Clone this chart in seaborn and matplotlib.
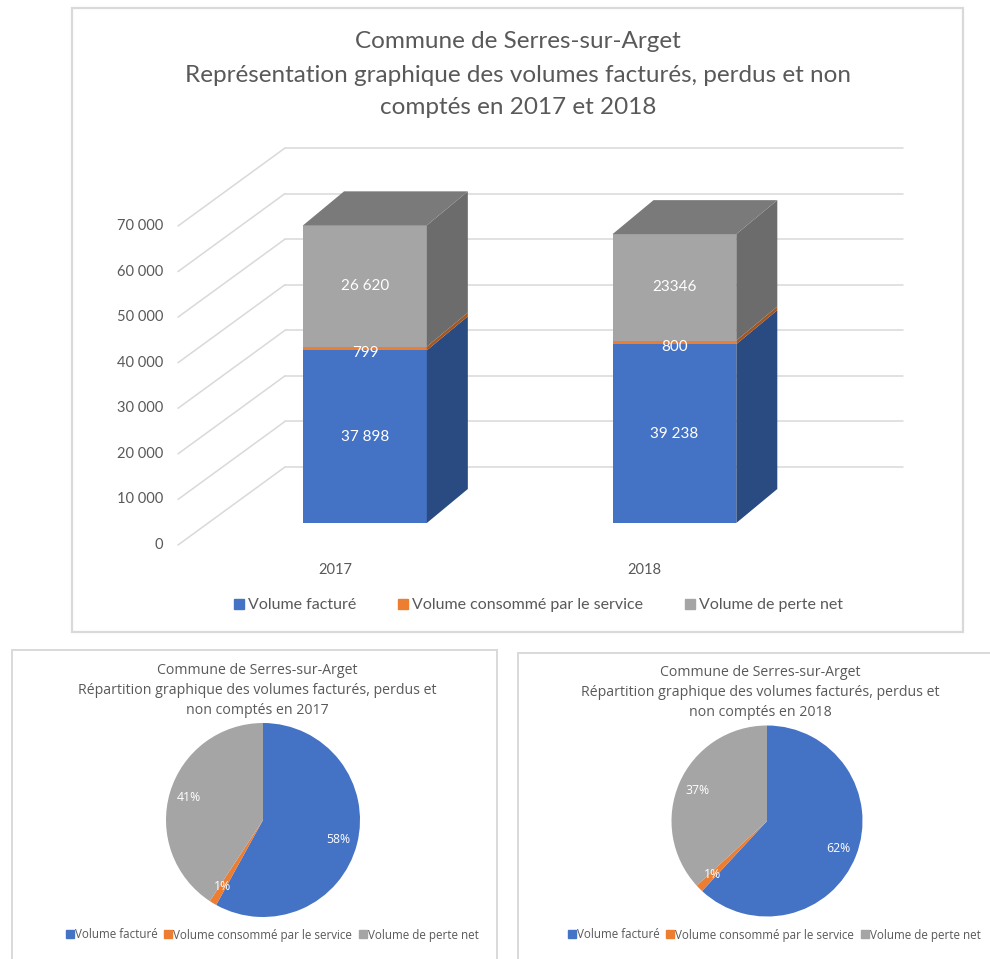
import numpy as np
import pandas as pd
import matplotlib
matplotlib.use("Agg")
import matplotlib.pyplot as plt
import seaborn as sns
from matplotlib.patches import Polygon, Rectangle
from matplotlib.lines import Line2D

# ---------------- data ----------------
years = ["2017", "2018"]
series_names = ["Volume facturé", "Volume consommé par le service", "Volume de perte net"]
vol_facture = [37898, 39238]
vol_service = [799, 800]
vol_perte = [26620, 23346]
labels_facture = ["37 898", "39 238"]
labels_service = ["799", "800"]
labels_perte = ["26 620", "23346"]
y_ticks = [0, 10000, 20000, 30000, 40000, 50000, 60000, 70000]
y_tick_labels = ["0", "10 000", "20 000", "30 000", "40 000", "50 000", "60 000", "70 000"]

title_main = ["Commune de Serres-sur-Arget",
              "Représentation graphique des volumes facturés, perdus et non",
              "comptés en 2017 et 2018"]
title_pie = ["Commune de Serres-sur-Arget",
             "Répartition graphique des volumes facturés, perdus et",
             "non comptés en {}"]

# ---------------- style ----------------
sns.set_style("white")
plt.rcParams["font.family"] = ["Lato", "DejaVu Sans"]
PIEFONT = ["Open Sans", "DejaVu Sans"]
TXT = "#595959"
GRID = "#D9D9D9"
front_cols = ["#4472C4", "#ED7D31", "#A5A5A5"]
side_cols = ["#2A4A82", "#A5561F", "#6C6C6C"]
top_col = "#7A7A7A"

W, H = 990, 959
fig = plt.figure(figsize=(W / 100, H / 100), dpi=100)
fig.patch.set_facecolor("white")


def fx(px):
    return px / W


def fy(py):
    return 1 - py / H


# frames
fig.patches.append(Rectangle((fx(72), fy(632)), fx(963) - fx(72), fy(8) - fy(632),
                             transform=fig.transFigure, fill=False, edgecolor=GRID, lw=1.6))
fig.patches.append(Rectangle((fx(12), fy(965)), fx(497) - fx(12), fy(650) - fy(965),
                             transform=fig.transFigure, fill=False, edgecolor=GRID, lw=1.4))
fig.patches.append(Rectangle((fx(518), fy(965)), fx(995) - fx(518), fy(653) - fy(965),
                             transform=fig.transFigure, fill=False, edgecolor=GRID, lw=1.4))

# ---------------- bar chart (pseudo 3D) ----------------
ax_w_px, ax_h_px = 618, 319
ax = fig.add_axes([fx(200), fy(523), ax_w_px / W, ax_h_px / H])
xlim0, xlim1 = -0.533, 1.464
ymax = 70000
px2dx = (xlim1 - xlim0) / ax_w_px
px2dy = ymax / ax_h_px

df = pd.DataFrame({"year": years, "facture": vol_facture,
                   "service": vol_service, "perte": vol_perte})
bottoms = [np.zeros(len(years)), np.array(vol_facture, float),
           np.array(vol_facture, float) + np.array(vol_service, float)]
cols = ["facture", "service", "perte"]
bar_w = 0.40
for k, c in enumerate(cols):
    sns.barplot(data=df, x="year", y=c, bottom=bottoms[k], color=front_cols[k],
                width=bar_w, saturation=1, linewidth=0, ax=ax, zorder=3, errorbar=None)
ax.set_xlim(xlim0, xlim1)
ax.set_ylim(0, ymax)
ax.axis("off")

# walls / gridlines
fdx, fdy = -22 * px2dx, -22 * px2dy      # front floor edge relative to bar plane
bdx, bdy = 85 * px2dx, 56 * px2dy        # back wall relative to bar plane
for t, lab in zip(y_ticks, y_tick_labels):
    ax.plot([xlim0 + fdx, xlim0 + bdx], [t + fdy, t + bdy], color=GRID, lw=1.1,
            clip_on=False, zorder=1)
    ax.plot([xlim0 + bdx, xlim1 + bdx], [t + bdy, t + bdy], color=GRID, lw=1.1,
            clip_on=False, zorder=1)
    ax.text(xlim0 - 37 * px2dx, t + fdy, lab, ha="right", va="center",
            fontsize=10.5, color=TXT, clip_on=False)

# side and top faces
sdx, sdy = 41 * px2dx, 34 * px2dy
seg_vals = [vol_facture, vol_service, vol_perte]
for i in range(len(years)):
    xl, xr = i - bar_w / 2, i + bar_w / 2
    for k in range(3):
        b = bottoms[k][i]
        t = b + seg_vals[k][i]
        ax.add_patch(Polygon([(xr, b), (xr + sdx, b + sdy), (xr + sdx, t + sdy), (xr, t)],
                             closed=True, facecolor=side_cols[k], edgecolor="none",
                             zorder=3, clip_on=False))
    top = bottoms[2][i] + vol_perte[i]
    ax.add_patch(Polygon([(xl, top), (xr, top), (xr + sdx, top + sdy), (xl + sdx, top + sdy)],
                         closed=True, facecolor=top_col, edgecolor="none",
                         zorder=3, clip_on=False))
    ax.text(i - 30 * px2dx, -47 * px2dy, years[i], ha="center", va="center",
            fontsize=10.5, color=TXT, clip_on=False)

# value labels
seg_labels = [labels_facture, labels_service, labels_perte]
for k, cont in enumerate(ax.containers[:3]):
    ax.bar_label(cont, labels=seg_labels[k], label_type="center", color="white",
                 fontsize=11, zorder=5, padding=(-3 if k == 1 else 0))

# title
for j, line in enumerate(title_main):
    fig.text(fx(518), fy([42, 75, 107][j]), line, ha="center", va="center",
             fontsize=17.5, color=TXT)

# legend
handles = [Line2D([], [], marker="s", linestyle="none", markersize=7,
                  markerfacecolor=c, markeredgecolor=c) for c in front_cols]
fig.legend(handles, series_names, loc="center", bbox_to_anchor=(fx(537), fy(605)),
           ncol=3, frameon=False, fontsize=11.5, labelcolor=TXT, handletextpad=0.1,
           columnspacing=2.4, handlelength=1.0)

# ---------------- pies ----------------
pie_specs = [(years[0], 263, 820, 97, 257, 272), (years[1], 767, 821, 95.5, 760, 774)]
for i, (yr, cx, cy, r, tx, lx) in enumerate(pie_specs):
    axp = fig.add_axes([fx(cx - r), fy(cy + r), 2 * r / W, 2 * r / H])
    vals = [vol_facture[i], vol_service[i], vol_perte[i]]
    axp.pie(vals, colors=front_cols, startangle=90, counterclock=False,
            autopct="%1.0f%%", pctdistance=0.8,
            textprops=dict(color="white", fontsize=8.8, family=PIEFONT),
            wedgeprops=dict(linewidth=0))
    axp.set_xlim(-1, 1)
    axp.set_ylim(-1, 1)
    for j, line in enumerate(title_pie):
        fig.text(fx(tx), fy([670, 691, 711][j] + (2 if i == 1 else 0)), line.format(yr),
                 ha="center", va="center", fontsize=10.2, color=TXT, family=PIEFONT)
    hp = [Line2D([], [], marker="s", linestyle="none", markersize=5.5,
                 markerfacecolor=c, markeredgecolor=c) for c in front_cols]
    fig.legend(hp, series_names, loc="center", bbox_to_anchor=(fx(lx), fy(935)),
               ncol=3, frameon=False, labelcolor=TXT, handletextpad=0.05,
               columnspacing=0.5, handlelength=0.8,
               prop=dict(family=PIEFONT, size=8.4))

fig.savefig("out.png", dpi=100, facecolor="white")
